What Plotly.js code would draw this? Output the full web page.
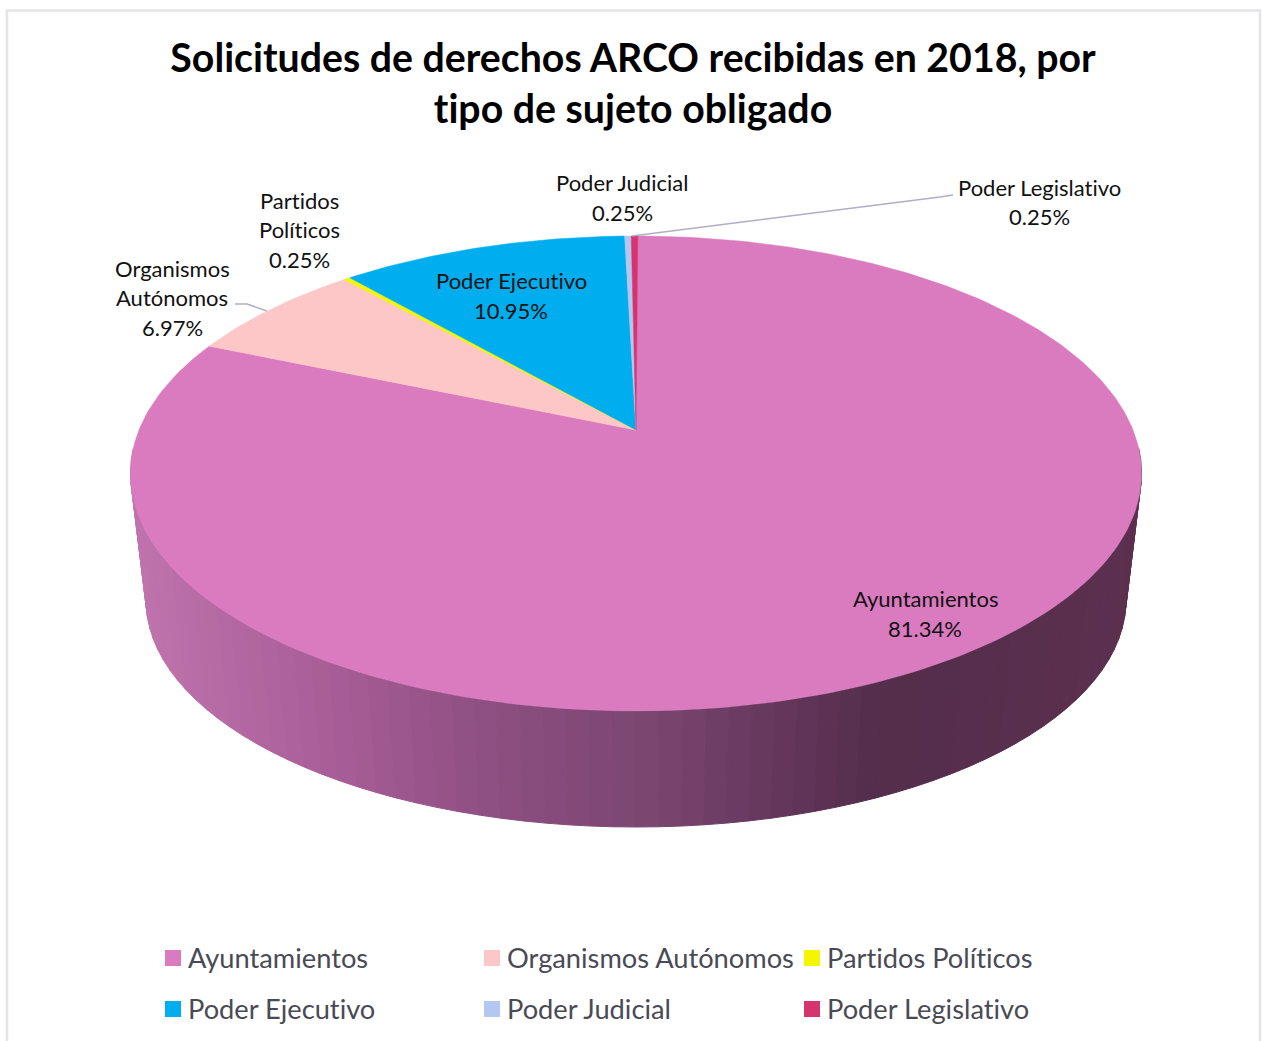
<!DOCTYPE html>
<html>
<head>
<meta charset="utf-8">
<script src="https://cdn.plot.ly/plotly-3.0.1.min.js"></script>
<style>html,body{margin:0;padding:0;background:#fff;overflow:hidden}#chart{width:1262px;height:1041px}
svg text{font-variant-ligatures:none;font-feature-settings:"liga" 0,"clig" 0}</style>
</head>
<body>
<div id="chart"></div>
<script>
// ---- data ----
const categories = ["Ayuntamientos", "Organismos Autónomos", "Partidos Políticos", "Poder Ejecutivo", "Poder Judicial", "Poder Legislativo"];
const shares = [81.34, 6.97, 0.25, 10.95, 0.25, 0.25];
const shareLabels = ["81.34%", "6.97%", "0.25%", "10.95%", "0.25%", "0.25%"];
const sliceColors = ["#da7bbf", "#fcc7c6", "#f4f500", "#00aeef", "#b4c7f2", "#d6336f"];

// ---- tilted-pie projection (the axes run in page pixels) ----
const apex = {x: 636, y: 430}, A = 497, B = 229.5, K = 0.183, startDeg = 0.25;
const rim = deg => {
  const t = deg * Math.PI / 180, d = 1 + K * Math.cos(t);
  return [apex.x + A * Math.sin(t) / d, apex.y - B * Math.cos(t) / d];
};
const topE = {cx: 636, cy: 473.5, a: 505.5, b: 237.5};
const botE = {cx: 636, cy: 600, a: 490, b: 227};
const onE = (e, deg) => [e.cx + e.a * Math.cos(deg * Math.PI / 180), e.cy + e.b * Math.sin(deg * Math.PI / 180)];

const wallStops = [[130, [192,116,174]], [300, [172,96,155]], [500, [140,78,128]], [650, [122,71,112]], [800, [98,52,90]], [870, [84,46,76]], [1141, [92,47,79]]];
const wallColor = x => {
  for (let i = 1; i < wallStops.length; i++) {
    const [x0, c0] = wallStops[i - 1], [x1, c1] = wallStops[i];
    if (x <= x1) {
      const f = Math.max(0, (x - x0) / (x1 - x0));
      return "rgb(" + c0.map((c, j) => Math.round(c + (c1[j] - c) * f)).join(",") + ")";
    }
  }
  return "rgb(92,47,79)";
};

const traces = [];
// side wall, strip by strip
const wallSteps = 72, wallFrom = 186, wallTo = -6;
for (let i = 0; i < wallSteps; i++) {
  const d0 = wallFrom + (wallTo - wallFrom) * i / wallSteps;
  const d1 = wallFrom + (wallTo - wallFrom) * (i + 1) / wallSteps;
  const p = [onE(topE, d0), onE(topE, d1), onE(botE, d1), onE(botE, d0), onE(topE, d0)];
  const col = wallColor((p[0][0] + p[1][0]) / 2);
  traces.push({type: "scatter", mode: "lines", x: p.map(q => q[0]), y: p.map(q => q[1]), fill: "toself",
    fillcolor: col, line: {color: col, width: 1}, hoverinfo: "skip", showlegend: false});
}
// top face, one wedge per category
const total = shares.reduce((s, v) => s + v, 0);
let acc = startDeg;
categories.forEach((name, i) => {
  const sweep = shares[i] / total * 360, n = Math.max(2, Math.ceil(sweep));
  const pts = [[apex.x, apex.y]];
  for (let k = 0; k <= n; k++) pts.push(rim(acc + sweep * k / n));
  pts.push([apex.x, apex.y]);
  traces.push({type: "scatter", mode: "lines", name, x: pts.map(q => q[0]), y: pts.map(q => q[1]), fill: "toself",
    fillcolor: sliceColors[i], line: {color: sliceColors[i], width: 0.5}, text: shareLabels[i],
    hoverinfo: "name+text", showlegend: false});
  acc += sweep;
});

// ---- legend, laid out like the reference ----
const legendX = [173, 492, 812, 173, 492, 812];
const legendY = [958, 958, 958, 1009, 1009, 1009];
traces.push({type: "scatter", mode: "markers", x: legendX, y: legendY,
  marker: {symbol: "square", size: 16, color: sliceColors, line: {width: 0}}, hoverinfo: "skip", showlegend: false});

const ann = [];
const FONT = "Lato, Carlito, Calibri, sans-serif";
const put = (text, x, y, size, color, anchor) => ann.push({xref: "x", yref: "y", x, y, text, showarrow: false,
  xanchor: anchor || "center", yanchor: "middle", font: {family: FONT, size, color}});
categories.forEach((c, i) => put(c, legendX[i] + 13, legendY[i] - 1, 27.25, "#4a4a55", "left"));

// data labels, line by line
const labelLines = [["Ayuntamientos", shareLabels[0]], ["Organismos", "Autónomos", shareLabels[1]], ["Partidos", "Políticos", shareLabels[2]],
  ["Poder Ejecutivo", shareLabels[3]], ["Poder Judicial", shareLabels[4]], ["Poder Legislativo", shareLabels[5]]];
const labelPos = [[925, 598, 30], [172, 268, 29.5], [299, 200, 29.5], [511, 280, 30], [622, 182, 30], [1039, 187, 29]];
labelLines.forEach((lines, i) => lines.forEach((t, j) =>
  put(t, labelPos[i][0], labelPos[i][1] + j * labelPos[i][2], 22, "#111111")));

const layout = {
  width: 1262, height: 1041, margin: {l: 0, r: 0, t: 0, b: 0}, paper_bgcolor: "#fff", plot_bgcolor: "#fff", showlegend: false,
  title: {text: "Solicitudes de derechos ARCO recibidas en 2018, por<br>tipo de sujeto obligado", x: 633 / 1262, xanchor: "center",
    y: 1 - 71.5 / 1041, yanchor: "middle", font: {family: FONT, size: 39.25, color: "#000", weight: 700}},
  xaxis: {range: [0, 1262], visible: false, fixedrange: true},
  yaxis: {range: [1041, 0], visible: false, fixedrange: true},
  annotations: ann,
  shapes: [
    {type: "rect", xref: "x", yref: "y", x0: 7, y0: 10.5, x1: 1260, y1: 1100, line: {color: "#e3e3e8", width: 2.5}, layer: "below"},
    {type: "path", xref: "x", yref: "y", path: "M 235 304 L 247 304 L 267 311", line: {color: "#b0aec4", width: 1.5}},
    {type: "path", xref: "x", yref: "y", path: "M 632 236 L 940 197 L 953 195", line: {color: "#b0aec4", width: 1.5}}
  ]
};
Plotly.newPlot("chart", traces, layout, {displayModeBar: false, staticPlot: false});
</script>
</body>
</html>
